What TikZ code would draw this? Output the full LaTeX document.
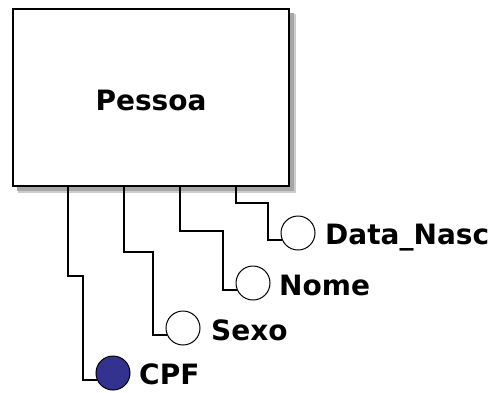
\documentclass[tikz,border=0pt]{standalone}
\usepackage{fontspec}
\setmainfont{DejaVu Sans}
\usetikzlibrary{calc}
\definecolor{keyblue}{HTML}{33338F}
\tikzset{
  ent/.style={draw=black, line width=2.6pt, fill=white, inner sep=0pt},
  attr/.style={circle, draw=black, line width=1pt, fill=white, minimum size=34pt, inner sep=0pt},
  keyattr/.style={attr, fill=keyblue},
  lab/.style={font=\bfseries\fontsize{28}{30}\selectfont, inner sep=0pt, anchor=base west},
  conn/.style={draw=black, line width=1.4pt}
}
\begin{document}
\begin{tikzpicture}[x=1pt,y=-1pt]
\useasboundingbox (0,0) rectangle (498,392);
% shadow
\fill[black!35] (17,13) rectangle (294,191);
\fill[black!20] (18,14) rectangle (296,193);
\fill[black!35] (17,13) rectangle (294,191);
\node[ent, minimum width=276pt, minimum height=177pt] (box) at (151,97.5) {};
\node[lab, anchor=center] (pname) at (151,100) {Pessoa};
% attribute circles
\node[attr] (c4) at (298,233) {};
\node[attr] (c3) at (253,283) {};
\node[attr] (c2) at (183,328) {};
\node[keyattr] (c1) at (113,373) {};
% labels
\node[lab] (l4) at (325,244.5) {Data\_Nasc};
\node[lab] (l3) at (279,295.5) {Nome};
\node[lab] (l2) at (211,340.5) {Sexo};
\node[lab] (l1) at (139,384.5) {CPF};
% connector start points on the box bottom
\coordinate (s1) at (68,186);
\coordinate (s2) at (124,186);
\coordinate (s3) at (180,186);
\coordinate (s4) at (236,186);
\draw[conn] (s4) |- (268,203) |- (c4.204);
\draw[conn] (s3) |- (223,231) |- (c3.204);
\draw[conn] (s2) |- (153,252) |- (c2.204);
\draw[conn] (s1) |- (83,276) |- (c1.204);
\end{tikzpicture}
\end{document}
